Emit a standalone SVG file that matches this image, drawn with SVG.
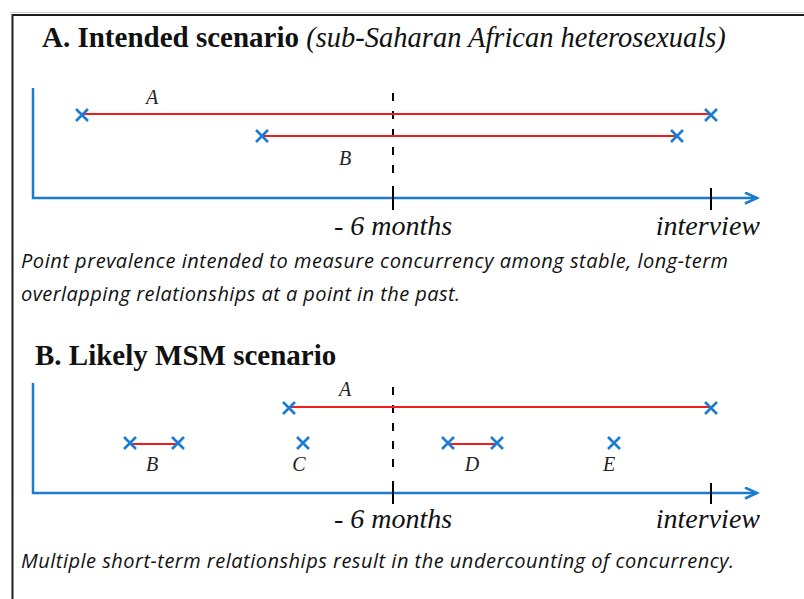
<svg xmlns="http://www.w3.org/2000/svg" xmlns:xlink="http://www.w3.org/1999/xlink" width="804" height="599" viewBox="0 0 804 599">
  <style>
    .frame { stroke: #1e1e1e; stroke-width: 2; fill: none; }
    .frame-shade { stroke: #cfcfcf; stroke-width: 1; fill: none; }
    .axis { stroke: #1b7bd0; stroke-width: 2.5; fill: none; }
    .rel { stroke: #f21c1c; stroke-width: 2.2; fill: none; }
    .tick { stroke: #000; stroke-width: 2; fill: none; }
    .cut { stroke: #000; stroke-width: 2; stroke-dasharray: 8 10; fill: none; }
    .end { stroke: #1b7bd0; stroke-width: 2.6; fill: none; }
    .title { font-family: "Liberation Serif", "DejaVu Serif", serif; font-weight: bold; font-size: 29px; fill: #111; }
    .sub { font-family: "Liberation Serif", "DejaVu Serif", serif; font-style: italic; font-size: 28.5px; fill: #111; }
    .time { font-family: "Liberation Serif", "DejaVu Serif", serif; font-style: italic; font-size: 28px; fill: #111; }
    .lab { font-family: "Liberation Serif", "DejaVu Serif", serif; font-style: italic; font-size: 20px; fill: #222; text-anchor: middle; }
    .note { font-family: "Open Sans", "Liberation Sans", sans-serif; font-style: italic; font-size: 20px; fill: #111; }
  </style>
  <defs>
    <path id="x" class="end" d="M-6,-6 L6,6 M-6,6 L6,-6"/>
    <marker id="head" markerUnits="userSpaceOnUse" markerWidth="16" markerHeight="14" refX="13" refY="6" orient="auto">
      <path d="M1,0.5 L13,6 L1,11.5" stroke="#1b7bd0" stroke-width="2.5" fill="none"/>
    </marker>
  </defs>

  <rect width="804" height="599" fill="#fff"/>

  <!-- outer frame: top and left edges -->
  <g id="frame">
    <line class="frame-shade" x1="10" y1="12.5" x2="804" y2="12.5"/>
    <line class="frame" x1="12" y1="15" x2="804" y2="15"/>
    <line class="frame" x1="12.5" y1="14" x2="12.5" y2="599"/>
  </g>

  <!-- Panel A -->
  <g id="panel-a">
    <text class="title" x="42" y="47">A. Intended scenario <tspan class="sub" font-weight="normal">(sub-Saharan African heterosexuals)</tspan></text>

    <g id="axes-a">
      <polyline class="axis" points="33,88 33,198 757,198" marker-end="url(#head)"/>
      <line class="cut" x1="393" y1="93" x2="393" y2="182"/>
      <line class="tick" x1="393" y1="186" x2="393" y2="210"/>
      <line class="tick" x1="711" y1="188" x2="711" y2="210"/>
    </g>

    <g id="rel-a-A">
      <line class="rel" x1="83" y1="114" x2="711" y2="114"/>
      <use xlink:href="#x" x="82" y="115"/>
      <use xlink:href="#x" x="711" y="115"/>
      <text class="lab" x="152" y="104">A</text>
    </g>
    <g id="rel-a-B">
      <line class="rel" x1="263" y1="136" x2="677" y2="136"/>
      <use xlink:href="#x" x="262" y="136"/>
      <use xlink:href="#x" x="677" y="136"/>
      <text class="lab" x="345" y="165">B</text>
    </g>

    <text class="time" x="393" y="235" text-anchor="middle">- 6 months</text>
    <text class="time" x="760" y="235" text-anchor="end">interview</text>

    <text class="note" x="21" y="268" textLength="707" lengthAdjust="spacing">Point prevalence intended to measure concurrency among stable, long-term</text>
    <text class="note" x="21" y="301" textLength="439" lengthAdjust="spacing">overlapping relationships at a point in the past.</text>
  </g>

  <!-- Panel B -->
  <g id="panel-b">
    <text class="title" x="35" y="365" font-size="28">B. Likely MSM scenario</text>

    <g id="axes-b">
      <polyline class="axis" points="33,383 33,493 757,493" marker-end="url(#head)"/>
      <line class="cut" x1="393" y1="387" x2="393" y2="476"/>
      <line class="tick" x1="393" y1="481" x2="393" y2="504"/>
      <line class="tick" x1="711" y1="483" x2="711" y2="504"/>
    </g>

    <g id="rel-b-A">
      <line class="rel" x1="290" y1="407" x2="711" y2="407"/>
      <use xlink:href="#x" x="289" y="408"/>
      <use xlink:href="#x" x="711" y="408"/>
      <text class="lab" x="345" y="396">A</text>
    </g>
    <g id="rel-b-B">
      <line class="rel" x1="131" y1="444" x2="178" y2="444"/>
      <use xlink:href="#x" x="130" y="443"/>
      <use xlink:href="#x" x="178" y="443"/>
      <text class="lab" x="152" y="471">B</text>
    </g>
    <g id="rel-b-C">
      <use xlink:href="#x" x="303" y="443"/>
      <text class="lab" x="299" y="471">C</text>
    </g>
    <g id="rel-b-D">
      <line class="rel" x1="449" y1="444" x2="497" y2="444"/>
      <use xlink:href="#x" x="448" y="443"/>
      <use xlink:href="#x" x="497" y="443"/>
      <text class="lab" x="472" y="471">D</text>
    </g>
    <g id="rel-b-E">
      <use xlink:href="#x" x="614" y="443"/>
      <text class="lab" x="609" y="471">E</text>
    </g>

    <text class="time" x="393" y="528" text-anchor="middle">- 6 months</text>
    <text class="time" x="760" y="528" text-anchor="end">interview</text>

    <text class="note" x="21" y="568" textLength="713" lengthAdjust="spacing">Multiple short-term relationships result in the undercounting of concurrency.</text>
  </g>
</svg>
